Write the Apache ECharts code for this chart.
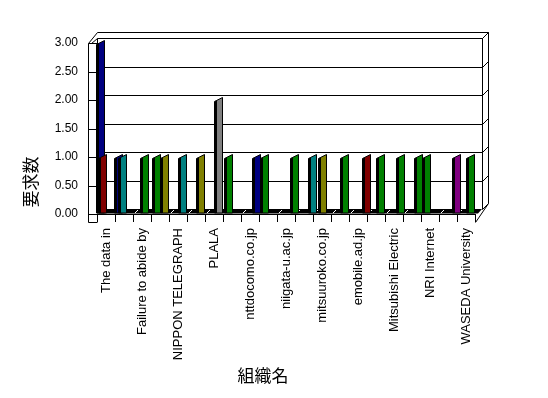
<!DOCTYPE html>
<html>
<head>
<meta charset="utf-8">
<script src="https://cdn.jsdelivr.net/npm/echarts@6/dist/echarts.min.js"></script>
<style>
  html, body { margin: 0; padding: 0; background: #fff; }
  #chart { width: 548px; height: 398px; }
</style>
</head>
<body>
<div id="chart"></div>
<script>
// organisations on the x axis (only every other name is printed)
const orgNames = [
  'The data in', '', 'Failure to abide by', '', 'NIPPON TELEGRAPH', '',
  'PLALA', '', 'nttdocomo.co.jp', '', 'niigata-u.ac.jp', '',
  'mitsuuroko.co.jp', '', 'emobile.ad.jp', '', 'Mitsubishi Electric', '',
  'NRI Internet', '', 'WASEDA University'
];

const yTicks = [0, 0.5, 1, 1.5, 2, 2.5, 3];

// request counts, one array per position inside a category cluster
const slot0 = [3, 1, 0, 0, 0, 0, 0, 0, 0, 0, 0, 0, 0, 0, 0, 0, 0, 0, 0, 0, 0];
const slot1 = [1, 0, 0, 1, 0, 0, 0, 1, 0, 1, 0, 0, 0, 0, 0, 0, 0, 0, 1, 0, 0];
const slot2 = [0, 1, 0, 0, 0, 0, 0, 0, 0, 0, 0, 0, 0, 0, 0, 0, 0, 0, 0, 0, 0];
const slot3 = [0, 0, 0, 0, 0, 0, 0, 0, 0, 0, 0, 0, 1, 0, 0, 0, 0, 0, 0, 0, 0];
const slot4 = [0, 0, 1, 0, 0, 0, 0, 0, 0, 0, 0, 0, 0, 0, 0, 0, 0, 0, 0, 0, 0];
const slot5 = [0, 0, 0, 1, 1, 1, 2, 0, 0, 0, 0, 0, 0, 1, 0, 1, 0, 0, 0, 0, 1];
const slot6 = [0, 0, 0, 0, 0, 0, 0, 0, 1, 0, 0, 0, 0, 0, 0, 0, 1, 1, 0, 0, 0];
const slot7 = [0, 0, 0, 0, 0, 0, 0, 0, 0, 0, 1, 1, 0, 0, 1, 0, 0, 0, 0, 1, 0];

// bar colour per organisation, one letter each ('.' = no bar)
const palette = {
  N: '#000080', M: '#800000', T: '#008080', G: '#008000',
  O: '#808000', A: '#808080', P: '#800080'
};
const slotColors = [
  'NN...................',
  'M..G...G.G........G..',
  '.T...................',
  '............O........',
  '..G..................',
  '...OTOA......G.G....G',
  '........N.......GG...',
  '..........GT..M....P.'
];
const slots = [slot0, slot1, slot2, slot3, slot4, slot5, slot6, slot7];

const chart = echarts.init(document.getElementById('chart'));

const px = v => Math.round(v) + 0.5;
const line = (pts, color) => ({
  type: 'polyline',
  shape: { points: pts },
  style: { stroke: color || '#000', lineWidth: 1, fill: null }
});

// the pseudo 3D box: walls, back grid, floor
function renderFrame(params, api) {
  const band = api.size([1, 0])[0];
  const x0 = Math.round(api.coord([0, 0])[0] - band / 2);
  const x1 = Math.round(api.coord([orgNames.length - 1, 0])[0] + band / 2);
  const y = v => px(api.coord([0, v])[1]);
  const top = yTicks[yTicks.length - 1];
  const dx = 7, dy = 5;
  const xL = x0 - 9 + 0.5;
  const xB = x0 + 0.5;
  const xR = x1 + dx + 0.5;
  const y0 = y(0);
  const kids = [];

  // floor
  kids.push({
    type: 'polygon',
    shape: { points: [[x0, y0 - 5.5], [x1 + dx, y0 - 5.5], [x1 + 3, y0 - 1], [x0, y0 - 1]] },
    style: { fill: '#000' }
  });
  for (let i = 0; i < orgNames.length; i++) {
    const l = x0 + i * band;
    kids.push(line([[l + 2, y0 - 1.5], [l + 5, y0 - 4.5]], '#fff'));
  }

  yTicks.forEach(v => {
    if (v > 0) kids.push(line([[xB, y(v) - dy], [xR, y(v) - dy]]));
    kids.push(line([[xL, y(v)], [xB, y(v)]]));
    kids.push(line([[xR, y(v) - dy], [xR + 6, y(v) - dy - 6]]));
  });

  // left wall
  kids.push(line([[xL, y(top)], [xL, y0 + 8], [xB, y0 + 8]]));
  kids.push(line([[xB, y(top) - dy], [xB, y0 - 5]]));
  kids.push(line([[xL, y(top)], [xB, y(top) - 11], [xR + 6, y(top) - 11], [xR, y(top) - dy]]));
  kids.push(line([[xL + 3, y(top)], [xB, y(top) - dy]]));
  // right wall
  kids.push(line([[xR, y(top) - dy], [xR, y0 - dy]]));
  kids.push(line([[xR + 6, y(top) - 11], [xR + 6, y0 - 11], [x1 + 0.5, y0 + 8]]));

  return { type: 'group', children: kids };
}

function slotRenderer(slot, colors) {
  return function (params, api) {
    const v = api.value(1);
    if (!v) return null;
    const i = api.value(0);
    const band = api.size([1, 0])[0];
    const left = api.coord([i, 0])[0] - band / 2;
    const fx = Math.round(left + 1 + slot * 2) + 0.5;
    const yb = Math.round(api.coord([i, 0])[1]) - 1;
    const yt = Math.round(api.coord([i, v])[1]) + 0.5;
    const w = 6, rise = 3;
    return {
      type: 'group',
      children: [
        {
          type: 'polygon',
          shape: { points: [[fx - 2, yb], [fx, yb], [fx, yt], [fx - 2, yt + 1]] },
          style: { fill: '#000', stroke: '#000', lineWidth: 1 }
        },
        {
          type: 'polygon',
          shape: { points: [[fx, yb], [fx + w, yb], [fx + w, yt - rise], [fx, yt]] },
          style: { fill: palette[colors[i]], stroke: '#000', lineWidth: 1 }
        }
      ]
    };
  };
}

const barSeries = slots.map((values, k) => ({
  type: 'custom',
  name: 'slot' + k,
  coordinateSystem: 'cartesian2d',
  clip: false,
  z: 3,
  renderItem: slotRenderer(k, slotColors[k]),
  data: values.map((v, i) => [i, v])
}));

const option = {
  backgroundColor: '#fff',
  animation: false,
  grid: { left: 97, right: 73, top: 43, bottom: 184, containLabel: false },
  xAxis: {
    type: 'category',
    data: orgNames,
    boundaryGap: true,
    name: '組織名',
    nameLocation: 'middle',
    nameGap: 153,
    nameTextStyle: {
      fontSize: 17,
      color: '#000',
      fontFamily: '"Noto Sans CJK JP"',
      padding: [0, 46, 0, 0]
    },
    axisLine: { show: true, lineStyle: { color: '#000', width: 1 } },
    axisTick: { show: true, interval: 0, length: 8, lineStyle: { color: '#000' } },
    axisLabel: {
      interval: 1,
      rotate: 90,
      margin: 14,
      fontSize: 13,
      color: '#000',
      fontFamily: '"Liberation Sans", Arial, sans-serif'
    },
    splitLine: { show: false }
  },
  yAxis: {
    type: 'value',
    min: 0,
    max: 3,
    interval: 0.5,
    axisLine: { show: false },
    axisTick: { show: false },
    splitLine: { show: false },
    axisLabel: {
      margin: 19,
      fontSize: 12,
      color: '#000',
      fontFamily: '"Liberation Sans", Arial, sans-serif',
      formatter: v => v.toFixed(2)
    }
  },
  graphic: [{
    type: 'text',
    x: 31,
    y: 182,
    rotation: Math.PI / 2,
    style: {
      text: '要求数',
      font: '17px "Noto Sans CJK JP"',
      fill: '#000',
      align: 'center',
      verticalAlign: 'middle'
    }
  }],
  series: [{
    type: 'custom',
    name: 'frame',
    coordinateSystem: 'cartesian2d',
    clip: false,
    z: 1,
    silent: true,
    renderItem: renderFrame,
    data: [[0, 0]]
  }].concat(barSeries)
};

chart.setOption(option);
</script>
</body>
</html>
